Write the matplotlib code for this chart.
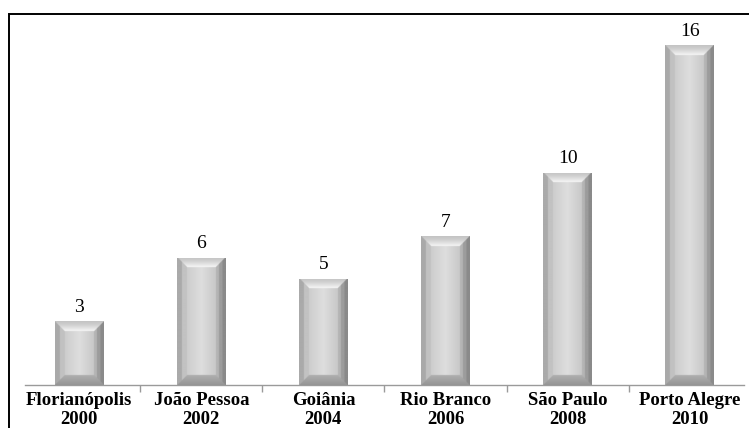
import numpy as np
import matplotlib
matplotlib.use("Agg")
import matplotlib.pyplot as plt
from matplotlib.patches import Rectangle

cities = ["Florianópolis", "João Pessoa", "Goiânia", "Rio Branco", "São Paulo", "Porto Alegre"]
years = ["2000", "2002", "2004", "2006", "2008", "2010"]
values = [3, 6, 5, 7, 10, 16]

labels = [f"{c}\n{y}" for c, y in zip(cities, years)]

W, H = 749, 428
fig = plt.figure(figsize=(W / 100, H / 100), dpi=100)
fig.patch.set_facecolor("white")

# outer frame
fig.patches.append(Rectangle((9 / W, -0.1), 1.2, 1 - 14 / H + 0.1,
                             transform=fig.transFigure, fill=False,
                             edgecolor="black", linewidth=1.4, clip_on=False))

ax = fig.add_axes([18 / W, 1 - 385 / H, 733 / W, 361 / H])
ax.set_xlim(-0.5, len(values) - 0.5)
ax.set_ylim(0, 17)
ax.set_facecolor("none")

bw = 0.4
x = np.arange(len(values))
bars = ax.bar(x, values, width=bw, color="#c8c8c8", edgecolor="none", zorder=2)

fig.canvas.draw()
p0 = ax.transData.transform((0, 0))
p1 = ax.transData.transform((1, 1))
ppx = p1[0] - p0[0]
ppy = p1[1] - p0[1]

bev = 10.0  # bevel size in pixels


def lerp(a, b, t):
    return a + (b - a) * t


for rect, v in zip(bars, values):
    x0 = rect.get_x()
    w = rect.get_width()
    h = rect.get_height()
    nx = max(int(round(w * ppx)), 2) * 2
    ny = max(int(round(h * ppy)), 2) * 2
    sx = nx / (w * ppx)
    sy = ny / (h * ppy)
    px = (np.arange(nx) + 0.5)[None, :] / sx * np.ones((ny, 1))
    py = (np.arange(ny) + 0.5)[::-1, None] / sy * np.ones((1, nx))
    Wp = w * ppx
    Hp = h * ppy
    dl = px
    dr = Wp - px
    db = py
    dt = Hp - py
    dmin = np.minimum(np.minimum(dl, dr), np.minimum(db, dt))
    u = np.clip((px - bev) / max(Wp - 2 * bev, 1), 0, 1)
    face = np.where(u < 0.5, lerp(205, 222, u / 0.5), lerp(222, 200, (u - 0.5) / 0.5))
    img = face.copy()
    inb = dmin < bev
    t = np.clip(dmin / bev, 0, 1)
    left = inb & (dl == dmin)
    right = inb & (dr == dmin) & ~left
    top = inb & (dt == dmin) & ~left & ~right
    bottom = inb & (db == dmin) & ~left & ~right & ~top
    img[left] = np.where(t[left] < 0.5, 170, 194)
    img[right] = np.where(t[right] < 0.35, 138, np.where(t[right] < 0.7, 156, 180))
    img[top] = lerp(196, 248, t[top] ** 1.5)
    img[bottom] = lerp(148, 176, t[bottom])
    rgb = np.dstack([img, img, img]) / 255.0
    im = ax.imshow(rgb, extent=(x0, x0 + w, 0, h), aspect="auto",
                   interpolation="bilinear", zorder=3)
    im.set_clip_path(rect)

for xi, v in zip(x, values):
    ax.annotate(str(v), (xi, v), xytext=(0, 4), textcoords="offset points",
                ha="center", va="bottom", family="Liberation Serif",
                fontsize=14, color="black")

ax.set_xlim(-0.5, len(values) - 0.5)
ax.set_ylim(0, 17)

for s in ["left", "right", "top"]:
    ax.spines[s].set_visible(False)
ax.spines["bottom"].set_color("#9a9a9a")
ax.spines["bottom"].set_linewidth(1.0)
ax.spines["bottom"].set_bounds(-0.44, len(values) - 1 + 0.44)
ax.set_yticks([])
ax.set_xticks(x)
ax.set_xticklabels(labels, family="Liberation Serif", fontweight="bold",
                   fontsize=13.5, linespacing=1.12)
ax.tick_params(axis="x", which="major", length=0, pad=5)
ax.set_xticks(np.arange(len(values) - 1) + 0.5, minor=True)
ax.tick_params(axis="x", which="minor", length=5, color="#9a9a9a", width=1.0)

fig.savefig("out.png", dpi=100, facecolor="white")
